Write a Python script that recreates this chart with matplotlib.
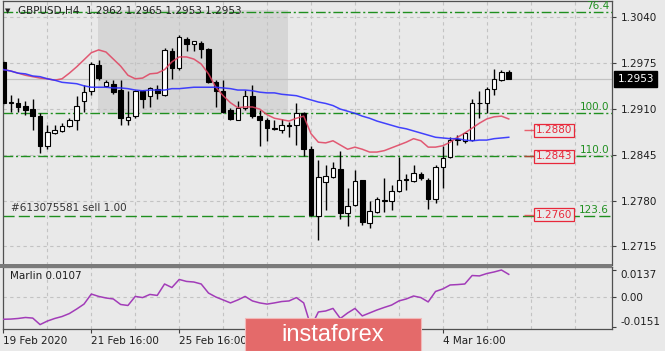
import matplotlib
matplotlib.use("Agg")
import matplotlib.pyplot as plt
from matplotlib.patches import Rectangle

# ---- data ----
opens = [1.2977, 1.2918, 1.2918, 1.2914, 1.2910, 1.2900, 1.2857, 1.2876, 1.2879, 1.2886,
         1.2894, 1.2921, 1.2935, 1.2973, 1.2943, 1.2945, 1.2937, 1.2895, 1.2900, 1.2936,
         1.2929, 1.2939, 1.2930, 1.2993, 1.2969, 1.3009, 1.3003, 1.3004, 1.2995, 1.2949,
         1.2936, 1.2908, 1.2895, 1.2911, 1.2929, 1.2900, 1.2895, 1.2882, 1.2880, 1.2887,
         1.2887, 1.2904, 1.2854, 1.2758, 1.2806, 1.2814, 1.2825, 1.2763, 1.2774, 1.2809,
         1.2749, 1.2764, 1.2780, 1.2780, 1.2794, 1.2810, 1.2808, 1.2818, 1.2810, 1.2782,
         1.2828, 1.2842, 1.2866, 1.2864, 1.2866, 1.2918, 1.2918, 1.2939, 1.2951, 1.2962]
highs = [1.2980, 1.2930, 1.2926, 1.2921, 1.2925, 1.2905, 1.2887, 1.2887, 1.2890, 1.2898,
         1.2928, 1.2944, 1.2977, 1.2980, 1.2951, 1.2951, 1.2951, 1.2935, 1.2937, 1.2937,
         1.2942, 1.2944, 1.2996, 1.2996, 1.3015, 1.3013, 1.3007, 1.3007, 1.2996, 1.2951,
         1.2951, 1.2911, 1.2921, 1.2937, 1.2944, 1.2909, 1.2898, 1.2895, 1.2896, 1.2891,
         1.2918, 1.2906, 1.2857, 1.2838, 1.2831, 1.2835, 1.2850, 1.2798, 1.2824, 1.2810,
         1.2779, 1.2785, 1.2812, 1.2802, 1.2842, 1.2818, 1.2831, 1.2820, 1.2812, 1.2831,
         1.2857, 1.2871, 1.2873, 1.2878, 1.2924, 1.2936, 1.2942, 1.2967, 1.2965, 1.2965]
lows = [1.2916, 1.2906, 1.2906, 1.2902, 1.2881, 1.2848, 1.2853, 1.2875, 1.2878, 1.2885,
        1.2881, 1.2906, 1.2930, 1.2951, 1.2942, 1.2932, 1.2887, 1.2887, 1.2898, 1.2911,
        1.2913, 1.2925, 1.2928, 1.2952, 1.2966, 1.2993, 1.2993, 1.2982, 1.2947, 1.2913,
        1.2904, 1.2894, 1.2894, 1.2909, 1.2898, 1.2858, 1.2864, 1.2880, 1.2876, 1.2871,
        1.2859, 1.2843, 1.2758, 1.2724, 1.2767, 1.2812, 1.2754, 1.2744, 1.2772, 1.2746,
        1.2741, 1.2763, 1.2764, 1.2767, 1.2793, 1.2795, 1.2806, 1.2809, 1.2768, 1.2776,
        1.2798, 1.2840, 1.2859, 1.2862, 1.2865, 1.2898, 1.2904, 1.2930, 1.2950, 1.2953]
closes = [1.2918, 1.2920, 1.2913, 1.2909, 1.2900, 1.2857, 1.2877, 1.2880, 1.2886, 1.2895,
          1.2914, 1.2934, 1.2974, 1.2954, 1.2948, 1.2934, 1.2897, 1.2899, 1.2935, 1.2925,
          1.2940, 1.2933, 1.2994, 1.2968, 1.3012, 1.3002, 1.3006, 1.2995, 1.2949, 1.2935,
          1.2906, 1.2896, 1.2911, 1.2928, 1.2900, 1.2895, 1.2883, 1.2883, 1.2888, 1.2886,
          1.2904, 1.2854, 1.2760, 1.2813, 1.2815, 1.2826, 1.2763, 1.2772, 1.2808, 1.2750,
          1.2765, 1.2782, 1.2781, 1.2794, 1.2810, 1.2809, 1.2819, 1.2812, 1.2782, 1.2828,
          1.2840, 1.2866, 1.2867, 1.2876, 1.2919, 1.2919, 1.2938, 1.2952, 1.2963, 1.2953]

ma_red = [1.2966, 1.2964, 1.2961, 1.2958, 1.2956, 1.2954, 1.2953, 1.2951, 1.2953, 1.2961,
          1.2970, 1.2980, 1.2990, 1.2994, 1.2991, 1.2981, 1.2971, 1.2958, 1.2953, 1.2954,
          1.2960, 1.2961, 1.2966, 1.2977, 1.2984, 1.2984, 1.2981, 1.2974, 1.2960, 1.2941,
          1.2929, 1.2919, 1.2912, 1.2913, 1.2913, 1.2910, 1.2902, 1.2897, 1.2895, 1.2893,
          1.2897, 1.2900, 1.2875, 1.2863, 1.2862, 1.2865, 1.2859, 1.2853, 1.2856, 1.2853,
          1.2849, 1.2849, 1.2851, 1.2855, 1.2859, 1.2863, 1.2868, 1.2865, 1.2856, 1.2856,
          1.2858, 1.2863, 1.2870, 1.2876, 1.2883, 1.2890, 1.2896, 1.2899, 1.2900, 1.2896]
ma_blue = [1.2966, 1.2964, 1.2961, 1.2960, 1.2957, 1.2956, 1.2953, 1.2951, 1.2948, 1.2947,
           1.2946, 1.2943, 1.2941, 1.2941, 1.2941, 1.2940, 1.2940, 1.2939, 1.2937, 1.2936,
           1.2937, 1.2937, 1.2937, 1.2939, 1.2939, 1.2940, 1.2941, 1.2941, 1.2941, 1.2941,
           1.2940, 1.2939, 1.2937, 1.2937, 1.2936, 1.2934, 1.2933, 1.2933, 1.2931, 1.2930,
           1.2929, 1.2926, 1.2923, 1.2920, 1.2918, 1.2915, 1.2910, 1.2907, 1.2904, 1.2900,
           1.2897, 1.2893, 1.2890, 1.2887, 1.2884, 1.2882, 1.2879, 1.2876, 1.2873, 1.2870,
           1.2869, 1.2868, 1.2868, 1.2866, 1.2865, 1.2866, 1.2866, 1.2868, 1.2869, 1.2870]

marlin = [-0.0113, -0.0112, -0.0109, -0.0104, -0.0107, -0.0140, -0.0122, -0.0109, -0.0099, -0.0084,
          -0.0061, -0.0036, 0.0015, 0.0003, -0.0005, -0.0010, -0.0038, -0.0043, 0.0003, -0.0003,
          0.0013, 0.0008, 0.0066, 0.0048, 0.0089, 0.0079, 0.0076, 0.0066, 0.0020, 0.0000,
          -0.0015, -0.0030, -0.0015, 0.0003, -0.0020, -0.0030, -0.0036, -0.0030, -0.0023, -0.0020,
          -0.0003, -0.0030, -0.0151, -0.0076, -0.0071, -0.0058, -0.0109, -0.0081, -0.0058, -0.0096,
          -0.0081, -0.0066, -0.0053, -0.0041, -0.0020, -0.0010, 0.0005, -0.0003, -0.0025, 0.0028,
          0.0041, 0.0061, 0.0063, 0.0066, 0.0109, 0.0107, 0.0119, 0.0127, 0.0137, 0.0115]

price_ticks = [1.3040, 1.2975, 1.2910, 1.2845, 1.2780, 1.2715]
fib_levels = [1.30475, 1.2904, 1.28434, 1.27587]
fib_names = ["76.4", "100.0", "110.0", "123.6"]
red_marks = [1.2880, 1.2843, 1.2760]
date_pos = [0, 12, 24, 60]
date_lbl = ["19 Feb 2020", "21 Feb 16:00", "25 Feb 16:00", "4 Mar 16:00"]
last_price = 1.2953

BG = "#e9e9e9"
GRID = "#c3c3c3"
GREEN = "#1f8f1f"
RED = "#e8283a"
TXT = "#1e1e1e"
FS = 7

fig = plt.figure(figsize=(6.65, 3.51), dpi=100, facecolor=BG)
W, H = 665.0, 351.0

def frame(x0, y0, x1, y1):
    return [x0 / W, 1 - y1 / H, (x1 - x0) / W, (y1 - y0) / H]

ax = fig.add_axes(frame(2.5, 1, 612, 265), facecolor=BG)
ai = fig.add_axes(frame(2.5, 267, 612, 329), facecolor=BG)

XMIN, XMAX = -0.13, 83.1
n = len(opens)
idx = list(range(n))

# ---- main price panel ----
ax.set_xlim(XMIN, XMAX)
ax.set_ylim(1.26887, 1.30634)

# shaded box
ax.add_patch(Rectangle((12.95, 1.2904), 38.9 - 12.95, 1.30506 - 1.2904,
                       facecolor="#d6d6d6", edgecolor="none", zorder=0))

for p in price_ticks:
    ax.axhline(p, color=GRID, lw=0.8, ls=(0, (3, 3)), zorder=0.5)
for g in range(6, 84, 6):
    ax.axvline(g, color=GRID, lw=0.8, ls=(0, (3, 3)), zorder=0.5)
    ai.axvline(g, color=GRID, lw=0.8, ls=(0, (3, 3)), zorder=0.5)

ax.axhline(last_price, color="#c2c2c2", lw=0.9, zorder=0.6)

# fibo levels
for k, (lv, nm) in enumerate(zip(fib_levels, fib_names)):
    style = (0, (8, 3)) if nm == "123.6" else (0, (7, 2, 1.5, 2))
    ax.axhline(lv, color=GREEN, lw=1.0, ls=style, zorder=1)
    ax.text(82.7, lv + 0.00012, nm, color=GREEN, fontsize=FS + 0.5, ha="right", va="bottom", zorder=5)

# candles
ax.vlines(idx, lows, highs, color="black", lw=1.0, zorder=2)
bottoms, heights, fills = [], [], []
for o, c in zip(opens, closes):
    bottoms.append(min(o, c))
    heights.append(max(abs(c - o), 0.00012))
    fills.append("white" if c >= o else "black")
ax.bar(idx, heights, bottom=bottoms, width=0.62, color=fills, edgecolor="black",
       linewidth=0.8, zorder=3)

ax.plot(idx, ma_red, color="#e0405e", lw=1.1, alpha=0.85, zorder=4)
ax.plot(idx, ma_blue, color="#2f2fff", lw=1.1, alpha=0.9, zorder=4)

# red order labels
for p in red_marks:
    ax.hlines(p, 71.1, 72.4, color=RED, lw=1.0, alpha=0.7, zorder=5)
    ax.text(72.7, p, "%.4f" % p, color=RED, fontsize=FS + 0.5, ha="left", va="center", zorder=6,
            bbox=dict(boxstyle="square,pad=0.15", fc=BG, ec=RED, lw=0.9))

ax.text(1.0, 1.2760 + 0.00025, "#613075581 sell 1.00", color="#333333", fontsize=FS + 0.5,
        ha="left", va="bottom", zorder=6)

ax.yaxis.tick_right()
ax.set_yticks(price_ticks)
ax.set_yticklabels(["%.4f" % p for p in price_ticks], fontsize=FS + 0.5, color=TXT)
ax.tick_params(axis="y", direction="out", length=3, width=0.8, colors="#404040", labelcolor=TXT, pad=3)
ax.set_xticks([])
for s in ["left", "top", "right"]:
    ax.spines[s].set_color("#505050")
    ax.spines[s].set_linewidth(0.9)
ax.spines["bottom"].set_visible(False)

ax.annotate("%.4f" % last_price, xy=(1.0, last_price), xycoords=("axes fraction", "data"),
            xytext=(4, 0), textcoords="offset points", fontsize=FS + 0.5, color="white",
            va="center", ha="left", annotation_clip=False,
            bbox=dict(boxstyle="square,pad=0.3", fc="black", ec="black"))

# ---- indicator panel ----
ai.set_xlim(XMIN, XMAX)
ai.set_ylim(-0.01624, 0.01522)
ai.axhline(0, color=GRID, lw=0.8, ls=(0, (3, 3)), zorder=0.5)
ai.plot(idx, marlin, color="#a23cb8", lw=1.1, zorder=3)
ai.text(0.012, 0.93, "Marlin 0.0107", transform=ai.transAxes, fontsize=FS + 0.5,
        color=TXT, ha="left", va="top")
ai.yaxis.tick_right()
ai.set_yticks([0.0137, 0.0, -0.0151])
ai.set_yticklabels(["0.0137", "0.00", "-0.0151"], fontsize=FS + 0.5, color=TXT)
lbls = ai.get_yticklabels()
lbls[0].set_va("top")
lbls[2].set_va("bottom")
ai.tick_params(axis="y", direction="out", length=3, width=0.8, colors="#404040", labelcolor=TXT, pad=3)
ai.set_xticks(date_pos)
ai.set_xticklabels(date_lbl, fontsize=FS + 0.5, color=TXT, ha="left")
ai.tick_params(axis="x", direction="out", length=3, width=0.8, colors="#404040", labelcolor=TXT, pad=2)
for s in ai.spines.values():
    s.set_color("#505050")
    s.set_linewidth(0.9)

# separator between panels
fig.patches.append(Rectangle((0, 1 - 267.5 / H), 612 / W, 3.5 / H, transform=fig.transFigure,
                             facecolor="#7a7a7a", edgecolor="none"))

# header
fig.text(5 / W, 1 - 11 / H, "\u25bc", fontsize=5, color="#222222", va="center", ha="left")
fig.text(18 / W, 1 - 11 / H, "GBPUSD,H4  1.2962 1.2965 1.2953 1.2953", fontsize=FS + 0.5,
         color="#222222", va="center", ha="left")

# watermark
fig.patches.append(Rectangle((245 / W, 0), 176 / W, 33 / H, transform=fig.transFigure,
                             facecolor="#e46a6a", edgecolor="#f2b8b8", lw=0.8))
fig.text(333 / W, 16 / H, "instaforex", fontsize=17, color="white", ha="center", va="center",
         family="Liberation Sans")

fig.savefig("out.png", dpi=100, facecolor=BG)
